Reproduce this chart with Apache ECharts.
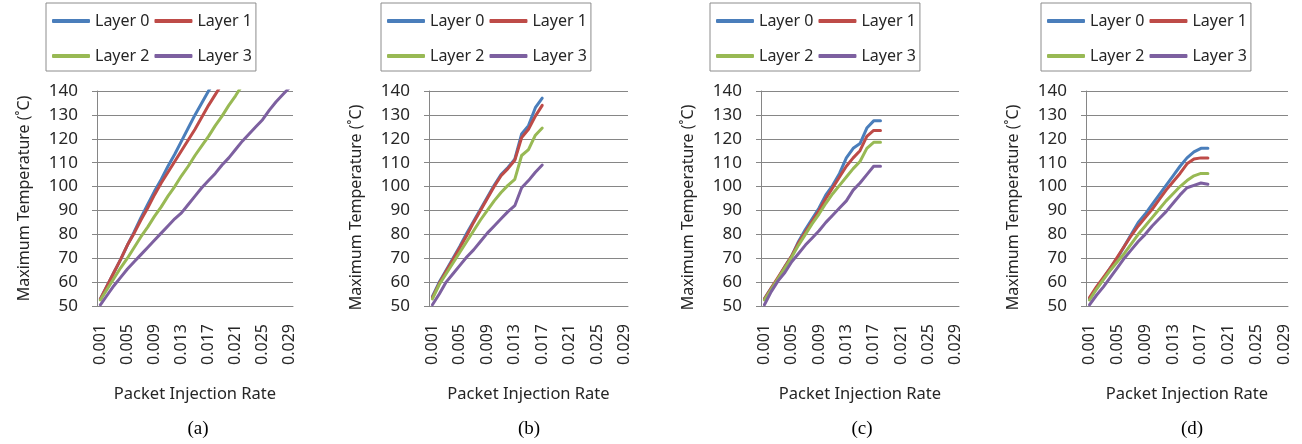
<!DOCTYPE html>
<html>
<head>
<meta charset="utf-8">
<script src="https://cdn.jsdelivr.net/npm/echarts@6/dist/echarts.min.js"></script>
<style>
  html, body { margin: 0; padding: 0; background: #fff; }
  #chart { width: 1302px; height: 444px; }
</style>
</head>
<body>
<div id="chart"></div>
<script>
const rates = [
  "0.001", "0.002", "0.003", "0.004", "0.005", "0.006", "0.007", "0.008",
  "0.009", "0.010", "0.011", "0.012", "0.013", "0.014", "0.015", "0.016",
  "0.017", "0.018", "0.019", "0.020", "0.021", "0.022", "0.023", "0.024",
  "0.025", "0.026", "0.027", "0.028", "0.029",
];
const layerNames = ["Layer 0", "Layer 1", "Layer 2", "Layer 3"];
const panelLabels = ["(a)", "(b)", "(c)", "(d)"];

// (a)
const aLayer0 = [53, 58.5, 64, 69.5, 75.5, 81, 87, 92.5, 98, 103, 108.5, 113.5, 119, 124.5, 130, 135, 140, 145];
const aLayer1 = [53, 58.5, 64, 69.5, 75.5, 80.5, 86, 91, 96.5, 101.5, 106, 110.5, 115, 119.5, 124, 129, 134, 138.5, 143];
const aLayer2 = [52.5, 57, 61.5, 66, 70, 74.5, 79, 83, 87.5, 91.5, 96, 100, 104.5, 108.5, 113, 117, 121, 125.5, 129.5, 134, 138, 142.5];
const aLayer3 = [50.5, 54.5, 58.5, 62, 65.5, 68.5, 71.5, 74.5, 77.5, 80.5, 83.5, 86.5, 89, 92.5, 96, 99.5, 102.5, 105.5, 109, 112, 115.5, 119, 122, 125, 128, 132, 135.5, 138.5, 141.5];
// (b)
const bLayer0 = [54, 60, 65, 70, 75, 80.5, 85.5, 90.5, 95.5, 100.5, 105, 108, 111.5, 122, 125.5, 133, 137];
const bLayer1 = [53.5, 59.5, 64.5, 69.5, 74.5, 79.5, 85, 90, 95, 100, 104.5, 107.5, 111, 120.5, 124, 129.5, 134];
const bLayer2 = [53, 59, 63.5, 68, 72.5, 77, 81.5, 86, 90, 94, 97.5, 100.5, 103, 113, 115.5, 121.5, 124.5];
const bLayer3 = [50.5, 55, 60, 63.5, 67, 70.5, 73.5, 77, 80.5, 83.5, 86.5, 89.5, 92, 99.5, 102.5, 106, 109];
// (c)
const cLayer0 = [53, 57.5, 61.5, 66.5, 71, 77, 82, 86.5, 91, 96.5, 100.5, 105.5, 112, 116, 118, 124.5, 127.5, 127.5];
const cLayer1 = [53, 57.5, 62, 66.5, 71, 76.5, 81, 85.5, 90, 95, 99.5, 104, 108.5, 112, 115, 121, 123.5, 123.5];
const cLayer2 = [52.5, 57, 61.5, 66, 70.5, 75.5, 80, 84.5, 88.5, 93, 97, 100.5, 104, 107.5, 110.5, 116, 118.5, 118.5];
const cLayer3 = [50.5, 56, 60.5, 64, 68.5, 72, 75.5, 78.5, 81.5, 85, 88, 91, 94, 98.5, 101.5, 105, 108.5, 108.5];
// (d)
const dLayer0 = [53, 57.5, 61.5, 66, 70, 75, 80, 85, 88.5, 92.5, 96.5, 100.5, 104.5, 108.5, 112, 114.5, 116, 116];
const dLayer1 = [53.5, 58, 62, 66, 70.5, 75, 79.5, 83.5, 87, 90.5, 94.5, 98.5, 102, 105.5, 109.5, 111.5, 112, 112];
const dLayer2 = [52.5, 57, 61, 65, 68.5, 72, 76, 80, 83.5, 87, 90.5, 94, 97, 100, 102.5, 104.5, 105.5, 105.5];
const dLayer3 = [50.5, 54.5, 58, 62, 66, 70, 73.5, 77, 80, 83.5, 86.5, 89.5, 93, 96.5, 99.5, 100.5, 101.5, 101];

const panels = [
  [aLayer0, aLayer1, aLayer2, aLayer3],
  [bLayer0, bLayer1, bLayer2, bLayer3],
  [cLayer0, cLayer1, cLayer2, cLayer3],
  [dLayer0, dLayer1, dLayer2, dLayer3],
];

const colors = ["#4A7EBB", "#BE4B48", "#98B954", "#7D60A0"];
const font = "Noto Sans";
const gray = "#868686";
const textColor = "#262626";

// plot boxes of the four panels
const boxes = [
  { left: 97, width: 196, legend: 46, caption: 198, nameShift: 0 },
  { left: 429, width: 199, legend: 381, caption: 529, nameShift: 18 },
  { left: 761, width: 198, legend: 710, caption: 862, nameShift: 18 },
  { left: 1086, width: 202, legend: 1041, caption: 1192, nameShift: 18 },
];

const option = {
  animation: false,
  grid: boxes.map((b) => ({
    left: b.left,
    top: 91,
    width: b.width,
    height: 215,
    containLabel: false,
  })),
  legend: boxes.map((b) => ({
    left: b.legend,
    top: 3,
    width: 205,
    orient: "horizontal",
    itemGap: 5,
    itemWidth: 38,
    itemHeight: 4,
    icon: "roundRect",
    padding: [3, 4, 0, 6],
    borderColor: "#8c8c8c",
    borderWidth: 1,
    textStyle: {
      fontFamily: font,
      fontSize: 16,
      color: textColor,
      lineHeight: 30,
    },
    data: layerNames,
  })),
  xAxis: boxes.map((b, i) => ({
    gridIndex: i,
    type: "category",
    data: rates,
    boundaryGap: true,
    axisLine: { lineStyle: { color: gray } },
    axisTick: { interval: 0, length: 5, lineStyle: { color: gray } },
    axisLabel: {
      interval: 3,
      rotate: 90,
      margin: 18,
      fontFamily: font,
      fontSize: 16,
      color: textColor,
    },
    name: "Packet Injection Rate",
    nameLocation: "middle",
    nameGap: 80,
    nameTextStyle: { fontFamily: font, fontSize: 16.5, color: textColor },
  })),
  yAxis: boxes.map((b, i) => ({
    gridIndex: i,
    type: "value",
    min: 50,
    max: 140,
    interval: 10,
    axisLine: { show: true, lineStyle: { color: gray } },
    axisTick: { show: true, length: 5, lineStyle: { color: gray } },
    splitLine: { lineStyle: { color: gray } },
    axisLabel: {
      margin: 19,
      fontFamily: font,
      fontSize: 17,
      color: textColor,
    },
    name: "Maximum Temperature (˚C)",
    nameLocation: "middle",
    nameGap: 65,
    nameTextStyle: {
      fontFamily: font,
      fontSize: 16,
      color: textColor,
      padding: [0, b.nameShift, 0, 0],
    },
  })),
  series: [],
  graphic: boxes.map((b, i) => ({
    type: "text",
    x: b.caption,
    y: 429,
    style: {
      text: panelLabels[i],
      font: '19px "Liberation Serif"',
      fill: "#000",
      align: "center",
      verticalAlign: "middle",
    },
  })),
};

panels.forEach((layers, i) => {
  layers.forEach((values, k) => {
    option.series.push({
      name: layerNames[k],
      type: "line",
      xAxisIndex: i,
      yAxisIndex: i,
      data: values,
      symbol: "none",
      color: colors[k],
      lineStyle: { width: 3, color: colors[k], join: "round", cap: "round" },
    });
  });
});

const chart = echarts.init(document.getElementById("chart"));
chart.setOption(option);
</script>
</body>
</html>
